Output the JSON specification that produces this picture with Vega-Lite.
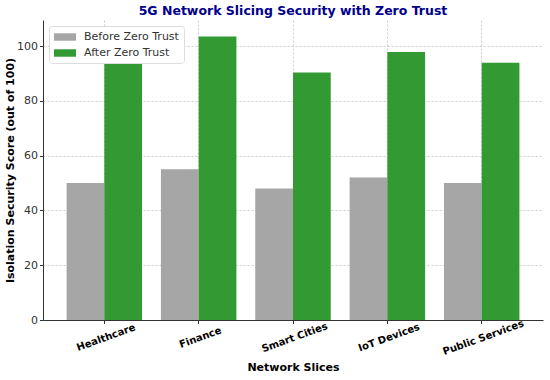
{
  "$schema": "https://vega.github.io/schema/vega-lite/v6.json",
  "width": 500,
  "height": 300,
  "autosize": "none",
  "padding": {"left": 43, "top": 20, "right": 7, "bottom": 60},
  "background": "white",
  "title": {
    "text": "5G Network Slicing Security with Zero Trust",
    "font": "DejaVu Sans",
    "fontSize": 12.5,
    "fontWeight": "bold",
    "color": "#00008B",
    "anchor": "middle",
    "offset": 3
  },
  "config": {
    "view": {"stroke": null},
    "font": "DejaVu Sans"
  },
  "data": {
    "values": [
      {"slice": "Healthcare", "phase": "Before Zero Trust", "score": 50},
      {"slice": "Healthcare", "phase": "After Zero Trust", "score": 94},
      {"slice": "Finance", "phase": "Before Zero Trust", "score": 55},
      {"slice": "Finance", "phase": "After Zero Trust", "score": 103.5},
      {"slice": "Smart Cities", "phase": "Before Zero Trust", "score": 48},
      {"slice": "Smart Cities", "phase": "After Zero Trust", "score": 90.3},
      {"slice": "IoT Devices", "phase": "Before Zero Trust", "score": 52},
      {"slice": "IoT Devices", "phase": "After Zero Trust", "score": 97.8},
      {"slice": "Public Services", "phase": "Before Zero Trust", "score": 50},
      {"slice": "Public Services", "phase": "After Zero Trust", "score": 93.9}
    ]
  },
  "mark": {"type": "bar"},
  "encoding": {
    "x": {
      "field": "slice",
      "type": "nominal",
      "sort": ["Healthcare", "Finance", "Smart Cities", "IoT Devices", "Public Services"],
      "scale": {"paddingInner": 0.2, "paddingOuter": 0.25},
      "axis": {
        "title": "Network Slices",
        "titleFontSize": 11,
        "titleFontWeight": "bold",
        "titleColor": "black",
        "titlePadding": 5,
        "labelAngle": -20,
        "labelAlign": "center",
        "labelBaseline": "top",
        "labelFontSize": 10,
        "labelFontWeight": "bold",
        "labelColor": "black",
        "labelPadding": 9,
        "domainColor": "#333333",
        "tickColor": "#333333",
        "tickSize": 3.5,
        "grid": true,
        "gridDash": [2, 2],
        "gridColor": "#cccccc",
        "bandPosition": 0.5
      }
    },
    "xOffset": {
      "field": "phase",
      "sort": ["Before Zero Trust", "After Zero Trust"],
      "scale": {"paddingInner": 0, "paddingOuter": 0}
    },
    "y": {
      "field": "score",
      "type": "quantitative",
      "scale": {"domain": [0, 109.5], "nice": false},
      "axis": {
        "title": "Isolation Security Score (out of 100)",
        "titleFontSize": 11,
        "titleFontWeight": "bold",
        "titleColor": "black",
        "titlePadding": 1,
        "values": [0, 20, 40, 60, 80, 100],
        "labelFontSize": 11,
        "labelColor": "#333333",
        "labelPadding": 2,
        "domainColor": "#333333",
        "tickColor": "#333333",
        "tickSize": 3.5,
        "grid": true,
        "gridDash": [2, 2],
        "gridColor": "#cccccc"
      }
    },
    "color": {
      "field": "phase",
      "type": "nominal",
      "sort": ["Before Zero Trust", "After Zero Trust"],
      "scale": {"domain": ["Before Zero Trust", "After Zero Trust"], "range": ["#a6a6a6", "#339933"]},
      "legend": {
        "title": null,
        "orient": "top-left",
        "offset": 6,
        "symbolType": "M-1,-0.62H2.67V0.62H-1Z",
        "symbolSize": 144,
        "symbolStrokeWidth": 0,
        "labelFontSize": 11,
        "labelColor": "#333333",
        "labelOffset": 18,
        "fillColor": "white",
        "strokeColor": "#dddddd",
        "padding": 5,
        "cornerRadius": 3,
        "rowPadding": 5
      }
    }
  }
}
